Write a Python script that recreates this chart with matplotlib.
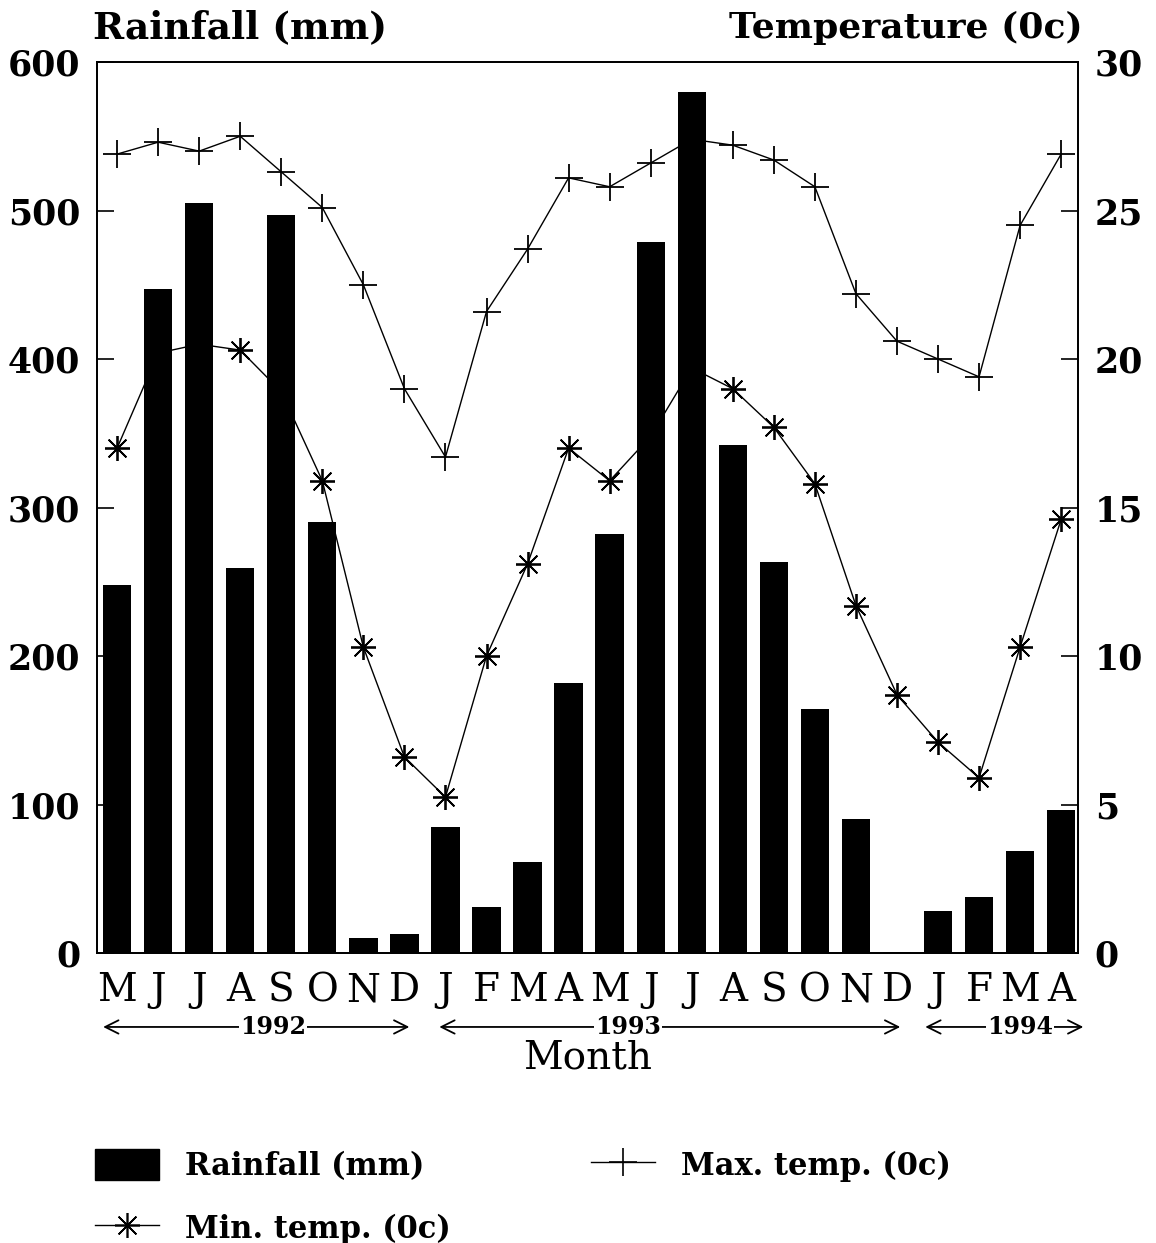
import matplotlib
matplotlib.use("Agg")
import matplotlib.pyplot as plt
import matplotlib.transforms as mtransforms
from matplotlib.patches import Patch
from matplotlib.lines import Line2D

# ---- data ----
months = ["M", "J", "J", "A", "S", "O", "N", "D",
          "J", "F", "M", "A", "M", "J", "J", "A", "S", "O", "N", "D",
          "J", "F", "M", "A"]
rainfall = [248, 447, 505, 259, 497, 290, 10, 13,
            85, 31, 61, 182, 282, 479, 580, 342, 263, 164, 90, 1,
            28, 38, 69, 96]
max_temp = [26.9, 27.3, 27.0, 27.5, 26.3, 25.1, 22.5, 19.0,
            16.7, 21.6, 23.7, 26.1, 25.8, 26.6, 27.4, 27.2, 26.7, 25.8, 22.2, 20.6,
            20.0, 19.4, 24.5, 26.9]
min_temp = [17.0, 20.2, 20.5, 20.3, 18.9, 15.9, 10.3, 6.6,
            5.25, 10.0, 13.1, 17.0, 15.9, 17.4, 19.7, 19.0, 17.7, 15.8, 11.7, 8.7,
            7.1, 5.9, 10.3, 14.6]
years = ["1992", "1993", "1994"]
year_spans = [(-0.34, 7.12, 3.8), (7.85, 19.08, 12.45), (19.69, 23.54, 22.0)]
rain_ticks = [0, 100, 200, 300, 400, 500, 600]
temp_ticks = [0, 5, 10, 15, 20, 25, 30]

SERIF = "DejaVu Serif"
plt.rcParams['font.family'] = [SERIF]

fig = plt.figure(figsize=(11.56, 12.43), dpi=100)
ax1 = fig.add_axes([0.0839, 0.2333, 0.8486, 0.7168])
ax2 = ax1.twinx()
# lines behind bars
ax2.set_zorder(ax1.get_zorder() - 1)
ax1.patch.set_visible(False)

x = list(range(len(months)))
ax1.bar(x, rainfall, width=0.69, color="black", zorder=3)
ax1.set_ylim(0, 600)
ax1.set_xlim(-0.49, 23.41)
ax1.set_yticks(rain_ticks)
ax1.set_xticks(x)
ax1.set_xticklabels(months, fontsize=28, family=SERIF)
ax1.tick_params(axis='x', length=0, pad=14)
ax1.tick_params(axis='y', direction='in', length=12, width=1.2, labelsize=25, pad=12)
for lab in ax1.get_yticklabels():
    lab.set_fontweight('bold')

ax2.plot(x, max_temp, color="black", lw=1.0, marker="+", markersize=20,
         markeredgewidth=1.3)
ax2.plot(x, min_temp, color="black", lw=1.0, marker=(8, 2, 0), markersize=18,
         markeredgewidth=1.3)
ax2.set_ylim(0, 30)
ax2.set_yticks(temp_ticks)
ax2.tick_params(axis='y', direction='in', length=12, width=1.2, labelsize=25, pad=12)
for lab in ax2.get_yticklabels():
    lab.set_fontweight('bold')

for a in (ax1, ax2):
    for s in a.spines.values():
        s.set_linewidth(1.3)

# year arrows below month labels
trans = mtransforms.blended_transform_factory(ax1.transData, ax1.transAxes)
for yr, (x0, x1, xt) in zip(years, year_spans):
    ax1.annotate("", xy=(x0, -0.083), xytext=(x1, -0.083), xycoords=trans,
                 textcoords=trans,
                 arrowprops=dict(arrowstyle="<->", lw=1.3, color="black",
                                 mutation_scale=24, shrinkA=0, shrinkB=0),
                 annotation_clip=False)
    ax1.text(xt, -0.083, yr, transform=trans, ha="center", va="center",
             fontsize=17, fontweight="bold", family=SERIF,
             bbox=dict(facecolor="white", edgecolor="none", pad=0.5), clip_on=False)

ax1.text(0.5, -0.118, "Month", transform=ax1.transAxes, ha="center",
         va="center", fontsize=28)

fig.text(93 / 1156, 1 - 28 / 1243, "Rainfall (mm)", ha="left", va="center",
         fontsize=27, fontweight="bold")
fig.text(1083 / 1156, 1 - 28 / 1243, "Temperature (0c)", ha="right",
         va="center", fontsize=26, fontweight="bold")

handles = [Patch(facecolor="black", edgecolor="black"),
           Line2D([], [], color="black", lw=1.0, marker=(8, 2, 0), markersize=18,
                  markeredgewidth=1.2),
           Line2D([], [], color="black", lw=1.0, marker="+", markersize=20,
                  markeredgewidth=1.2)]
labels = ["Rainfall (mm)", "Min. temp. (0c)", "Max. temp. (0c)"]
fig.legend(handles, labels, ncol=2, loc="upper left",
           bbox_to_anchor=(0.058, 0.098), frameon=False,
           prop=dict(family=SERIF, size=22, weight="bold"),
           handlelength=2.1, handleheight=1.2, handletextpad=0.85,
           columnspacing=4.6, labelspacing=1.0)

fig.savefig("out.png", dpi=100)
